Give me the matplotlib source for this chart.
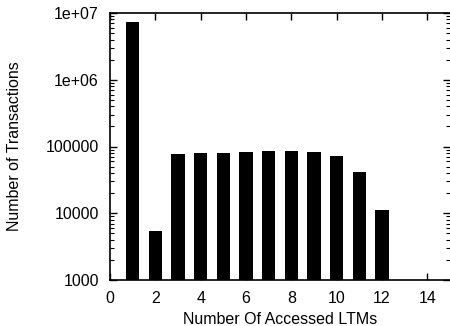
import matplotlib
matplotlib.use("Agg")
import matplotlib.pyplot as plt
from matplotlib.ticker import LogLocator, NullFormatter

plt.rcParams['font.family'] = ['Liberation Sans', 'DejaVu Sans']

ltms = [1, 2, 3, 4, 5, 6, 7, 8, 9, 10, 11, 12]
transactions = [7.4e6, 5.4e3, 76000, 79000, 80500, 81500, 84500, 86000, 84000, 71000, 41000, 11100]
xticks = [0, 2, 4, 6, 8, 10, 12, 14]
yticks = [1e3, 1e4, 1e5, 1e6, 1e7]
ytick_labels = ['1000', '10000', '100000', '1e+06', '1e+07']

fig = plt.figure(figsize=(4.5, 3.26), dpi=100)
ax = fig.add_axes([110/450, 1 - 280/326, 340/450, (280-13)/326])

ax.bar(ltms, transactions, width=0.6, color='black', bottom=1, zorder=1)
ax.set_yscale('log')
ax.set_ylim(1e3, 1e7)
ax.set_xlim(0, 15)

ax.set_xticks(xticks)
ax.set_yticks(yticks)
ax.set_yticklabels(ytick_labels)
ax.yaxis.set_minor_locator(LogLocator(base=10, subs=range(2, 10)))
ax.yaxis.set_minor_formatter(NullFormatter())

ax.tick_params(axis='both', which='major', direction='in', length=5, width=1,
               top=True, right=True, labelsize=11.5, colors='black')
ax.tick_params(axis='x', which='major', pad=8)
ax.tick_params(axis='y', which='major', pad=8)
ax.tick_params(axis='y', which='minor', direction='in', length=3, width=0.8,
               left=True, right=True)
ax.tick_params(axis='x', which='minor', bottom=False, top=False)
ax.spines['right'].set_visible(False)
for s in ['left', 'top', 'bottom']:
    ax.spines[s].set_linewidth(1.2)

ax.set_xlabel('Number Of Accessed LTMs', fontsize=11.5)
ax.set_ylabel('Number of Transactions', fontsize=11.5)
ax.xaxis.set_label_coords(0.5, -(320 - 280) / 267, transform=ax.transAxes)
ax.xaxis.label.set_va('center')
ax.yaxis.set_label_coords(-(110 - 15) / 340, 0.5, transform=ax.transAxes)
ax.yaxis.label.set_va('center')

fig.savefig('out.png', dpi=100)
